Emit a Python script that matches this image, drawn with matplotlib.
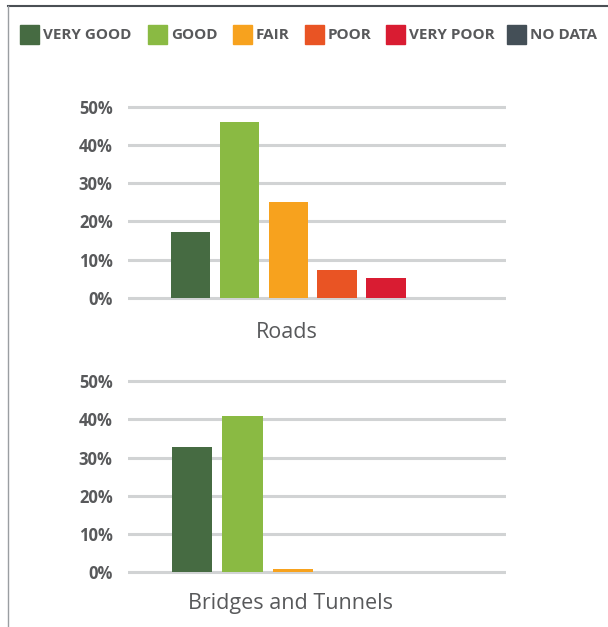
import matplotlib.pyplot as plt
from matplotlib.patches import Rectangle
from matplotlib.lines import Line2D

plt.rcParams['font.family'] = ['Open Sans', 'DejaVu Sans']

categories = ["VERY GOOD", "GOOD", "FAIR", "POOR", "VERY POOR", "NO DATA"]
colors = ["#466b42", "#8aba43", "#f7a21e", "#e95424", "#d91c32", "#444f57"]
roads = [17.2, 46.0, 25.0, 7.3, 5.2, 0.0]
bridges = [32.7, 40.9, 0.8, 0.0, 0.0, 0.0]
yticks = [0, 10, 20, 30, 40, 50]

TXT = "#58595b"
GRID = "#d1d3d4"

W, H = 608, 627
fig = plt.figure(figsize=(W / 100, H / 100), dpi=100)


def px(x0, y0, x1, y1):
    # pixel box (top-left origin) -> figure fraction rect
    return [x0 / W, 1 - y1 / H, (x1 - x0) / W, (y1 - y0) / H]


def draw(ax, vals, xlim):
    xs = range(len(vals))
    ax.bar(xs, vals, width=0.8, color=colors, zorder=3)
    ax.set_ylim(-1, 51)
    ax.set_xlim(*xlim)
    ax.set_yticks(yticks)
    ax.set_yticklabels([f"{t}%" for t in yticks], fontsize=12, fontweight="bold", color=TXT)
    ax.tick_params(axis="y", length=0, pad=11)
    ax.set_xticks([])
    ax.grid(axis="y", color=GRID, linewidth=2.2, zorder=0)
    for s in ax.spines.values():
        s.set_visible(False)


ax1 = fig.add_axes(px(128, 102.9, 506, 301.8))
draw(ax1, roads, (-1.27, 6.45))
ax2 = fig.add_axes(px(128, 377.5, 506, 575.8))
draw(ax2, bridges, (-1.27, 6.22))

fig.text(287 / W, 1 - 333 / H, "Roads", fontsize=15.5, color=TXT, ha="center", va="center")
fig.text(290 / W, 1 - 604 / H, "Bridges and Tunnels", fontsize=15.5, color=TXT,
         ha="center", va="center")

# legend row
patch_x = [20, 148, 233, 305, 386, 507]
for c, lab, x in zip(colors, categories, patch_x):
    fig.patches.append(Rectangle((x / W, 1 - 44 / H), 19 / W, 19 / H,
                                 transform=fig.transFigure, color=c))
    fig.text((x + 23) / W, 1 - 35 / H, lab, fontsize=11, fontweight="bold",
             color=TXT, va="center", ha="left")

# frame lines
fig.add_artist(Line2D([8 / W, 1], [1 - 6 / H, 1 - 6 / H], color="#4a4f54", linewidth=1.5))
fig.add_artist(Line2D([8 / W, 8 / W], [0, 1 - 6 / H], color="#9a9ea2", linewidth=1))

fig.savefig("out.png", dpi=100)
